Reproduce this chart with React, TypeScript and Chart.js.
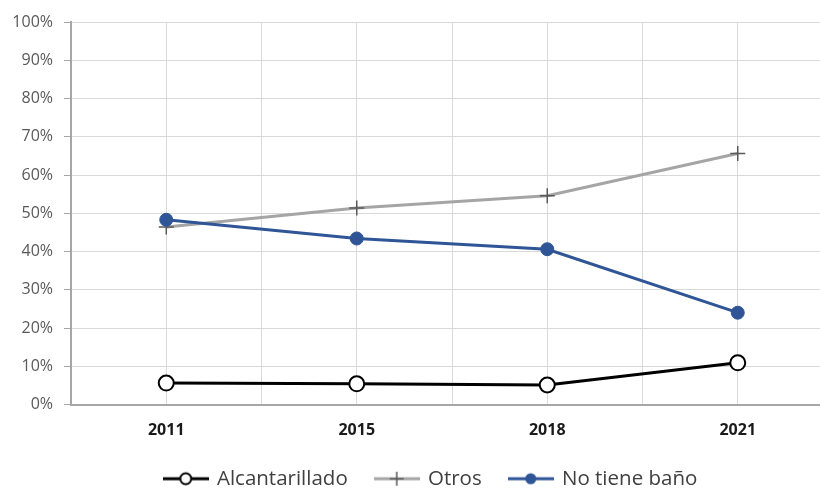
import { useEffect, useRef } from 'react';
import { Chart, registerables } from 'chart.js';

Chart.register(...registerables);

const categories = ['2011', '2015', '2018', '2021'];
const seriesNames = ['Alcantarillado', 'Otros', 'No tiene baño'];
const alcantarillado = [5.6, 5.4, 5.1, 10.9];
const otros = [46.4, 51.4, 54.6, 65.6];
const noTieneBano = [48.3, 43.4, 40.6, 24.0];

const CANVAS_W = 862;
const CANVAS_H = 499;
const PLOT_RIGHT = 833;
const LEGEND_SHIFT = 14.5;

const FONT = "'Open Sans', 'DejaVu Sans', sans-serif";

function makeMarker(kind: number): HTMLCanvasElement {
  const c = document.createElement('canvas');
  c.width = 46;
  c.height = 20;
  const ctx = c.getContext('2d')!;
  const cy = 10;
  const cx = 23;
  ctx.lineCap = 'butt';
  if (kind === 0) {
    ctx.strokeStyle = '#000000';
    ctx.lineWidth = 3;
    ctx.beginPath();
    ctx.moveTo(0, cy);
    ctx.lineTo(46, cy);
    ctx.stroke();
    ctx.beginPath();
    ctx.arc(cx, cy, 5.5, 0, Math.PI * 2);
    ctx.fillStyle = '#ffffff';
    ctx.fill();
    ctx.lineWidth = 2;
    ctx.stroke();
  } else if (kind === 1) {
    ctx.strokeStyle = '#a5a5a5';
    ctx.lineWidth = 3;
    ctx.beginPath();
    ctx.moveTo(0, cy);
    ctx.lineTo(46, cy);
    ctx.stroke();
    ctx.strokeStyle = '#595959';
    ctx.lineWidth = 1.5;
    ctx.beginPath();
    ctx.moveTo(cx - 7, cy);
    ctx.lineTo(cx + 7, cy);
    ctx.moveTo(cx, cy - 7);
    ctx.lineTo(cx, cy + 7);
    ctx.stroke();
  } else {
    ctx.strokeStyle = '#2f5597';
    ctx.lineWidth = 3;
    ctx.beginPath();
    ctx.moveTo(0, cy);
    ctx.lineTo(46, cy);
    ctx.stroke();
    ctx.beginPath();
    ctx.arc(cx, cy, 5.5, 0, Math.PI * 2);
    ctx.fillStyle = '#2f5597';
    ctx.fill();
  }
  return c;
}

const legendShift = {
  id: 'legendShift',
  afterLayout(chart: any) {
    const l = chart.legend;
    if (l) {
      l.left += LEGEND_SHIFT;
      l.right += LEGEND_SHIFT;
    }
  },
};

export default function App() {
  const ref = useRef<HTMLCanvasElement | null>(null);

  useEffect(() => {
    if (!ref.current) return;
    const markers = [makeMarker(0), makeMarker(1), makeMarker(2)];
    const toPts = (arr: number[]) => arr.map((v, i) => ({ x: i, y: v }));
    const chart = new Chart(ref.current, {
      type: 'line',
      plugins: [legendShift],
      data: {
        datasets: [
          {
            label: seriesNames[0],
            data: toPts(alcantarillado),
            borderColor: '#000000',
            borderWidth: 3,
            pointStyle: 'circle',
            pointRadius: 7.5,
            pointBackgroundColor: '#ffffff',
            pointBorderColor: '#000000',
            pointBorderWidth: 2,
            order: 2,
          },
          {
            label: seriesNames[1],
            data: toPts(otros),
            borderColor: '#a5a5a5',
            borderWidth: 3,
            pointStyle: 'cross',
            pointRadius: 7.5,
            pointBorderColor: '#595959',
            pointBorderWidth: 1.5,
            order: 1,
          },
          {
            label: seriesNames[2],
            data: toPts(noTieneBano),
            borderColor: '#2f5597',
            borderWidth: 3,
            pointStyle: 'circle',
            pointRadius: 6.5,
            pointBackgroundColor: '#2f5597',
            pointBorderColor: '#2f5597',
            pointBorderWidth: 1,
            order: 0,
          },
        ],
      },
      options: {
        animation: false,
        responsive: true,
        maintainAspectRatio: false,
        layout: { padding: { left: 0, right: CANVAS_W - PLOT_RIGHT, top: 22, bottom: 0 } },
        plugins: {
          tooltip: { enabled: false },
          legend: {
            position: 'bottom',
            labels: {
              usePointStyle: true,
              pointStyleWidth: 42,
              padding: 28,
              color: '#404040',
              font: { family: FONT, size: 20.5 },
              generateLabels: () =>
                seriesNames.map((name, i) => ({
                  text: name,
                  pointStyle: markers[i] as any,
                  datasetIndex: i,
                  hidden: false,
                  fillStyle: 'rgba(0,0,0,0)',
                  strokeStyle: 'rgba(0,0,0,0)',
                  lineWidth: 0,
                  fontColor: '#404040',
                })),
            },
          },
        },
        scales: {
          x: {
            type: 'linear',
            min: -0.5,
            max: 3.5,
            ticks: {
              stepSize: 0.5,
              autoSkip: false,
              maxRotation: 0,
              padding: 16,
              color: '#1a1a1a',
              font: { family: FONT, size: 16, weight: 'bold' },
              callback: (v: any) => (Number.isInteger(v) ? categories[v] : ''),
            },
            grid: { color: '#d9d9d9', drawTicks: false },
            border: { color: '#a6a6a6', width: 2 },
            afterFit: (s: any) => {
              s.height = 36;
            },
          },
          y: {
            min: 0,
            max: 100,
            ticks: {
              stepSize: 10,
              padding: 11,
              color: '#595959',
              font: { family: FONT, size: 16 },
              callback: (v: any) => v + '%',
            },
            grid: { color: '#d9d9d9', tickLength: 7, tickColor: '#a6a6a6' },
            border: { color: '#a6a6a6', width: 2 },
            afterFit: (s: any) => {
              s.width = 71;
            },
          },
        },
      },
    });
    return () => chart.destroy();
  }, []);

  return (
    <div
      style={{
        position: 'fixed',
        left: 0,
        top: 0,
        width: 820,
        height: 489,
        overflow: 'hidden',
        background: '#ffffff',
      }}
    >
      <div style={{ position: 'relative', width: CANVAS_W, height: CANVAS_H }}>
        <canvas ref={ref} />
      </div>
    </div>
  );
}
